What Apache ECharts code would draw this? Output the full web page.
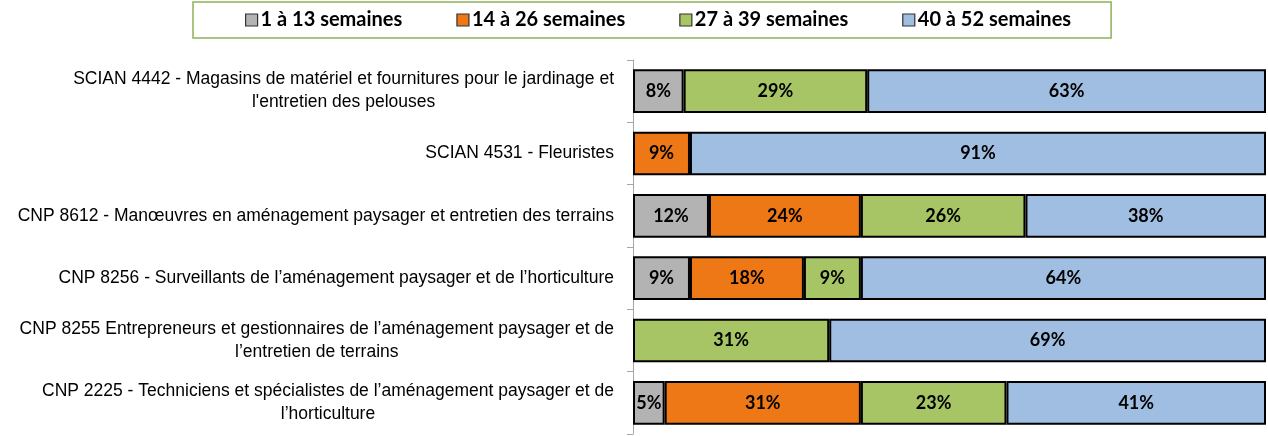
<!DOCTYPE html>
<html>
<head>
<meta charset="utf-8">
<script src="https://cdn.jsdelivr.net/npm/echarts@6/dist/echarts.min.js"></script>
<style>
  html, body { margin: 0; padding: 0; background: #fff; }
  #chart { width: 1268px; height: 436px; }
</style>
</head>
<body>
<div id="chart"></div>
<script>
// catégories (de haut en bas)
const categories = [
    'SCIAN 4442 - Magasins de matériel et fournitures pour le jardinage et\nl\'entretien des pelouses',
    'SCIAN 4531 - Fleuristes',
    'CNP 8612 - Manœuvres en aménagement paysager et entretien des terrains',
    'CNP 8256 - Surveillants de l’aménagement paysager et de l’horticulture',
    'CNP 8255 Entrepreneurs et gestionnaires de l’aménagement paysager et de\nl’entretien de terrains',
    'CNP 2225 - Techniciens et spécialistes de l’aménagement paysager et de\nl’horticulture'
];

const seriesNames = ['1 à 13 semaines', '14 à 26 semaines', '27 à 39 semaines', '40 à 52 semaines'];

// pourcentages par tranche
const weeks1to13 = [8, null, 12, 9, null, 5];
const weeks14to26 = [null, 9, 24, 18, null, 31];
const weeks27to39 = [29, null, 26, 9, 31, 23];
const weeks40to52 = [63, 91, 38, 64, 69, 41];

const colors = ['#b3b3b3', '#ee7716', '#a7c565', '#a0bee1'];

const chart = echarts.init(document.getElementById('chart'));

const allValues = [weeks1to13, weeks14to26, weeks27to39, weeks40to52];

const series = allValues.map(function (vals, i) {
    return {
        name: seriesNames[i],
        type: 'bar',
        stack: 'total',
        barCategoryGap: '30%',
        data: vals,
        itemStyle: {
            color: colors[i],
            borderColor: '#000',
            borderWidth: 2
        },
        label: {
            show: true,
            position: 'inside',
            color: '#000',
            fontFamily: 'Lato',
            fontWeight: 'bold',
            fontSize: 18,
            formatter: function (p) {
                return p.value ? p.value + '%' : '';
            }
        }
    };
});

const option = {
    animation: false,
    legend: {
        left: 193,
        top: 2,
        padding: [8, 40, 8, 52],
        itemGap: 54,
        itemWidth: 12,
        itemHeight: 12,
        borderColor: '#8db35a',
        borderWidth: 1.5,
        icon: 'rect',
        itemStyle: { borderWidth: 1.2, borderColor: '#333' },
        textStyle: {
            fontFamily: 'Lato',
            fontWeight: 'bold',
            fontSize: 20,
            color: '#000',
            padding: [0, 0, 0, -2]
        },
        data: seriesNames
    },
    grid: {
        left: 633,
        right: 2,
        top: 60,
        bottom: 2
    },
    xAxis: {
        type: 'value',
        min: 0,
        max: 100,
        show: false
    },
    yAxis: {
        type: 'category',
        inverse: true,
        data: categories,
        axisLine: { show: true, lineStyle: { color: '#a6a6a6', width: 1 } },
        axisTick: { show: true, length: 6, lineStyle: { color: '#a6a6a6' } },
        axisLabel: {
            margin: 19,
            align: 'right',
            color: '#000',
            fontFamily: 'Liberation Sans',
            fontSize: 17.5,
            lineHeight: 23,
            // lignes centrées entre elles, bloc aligné à droite
            formatter: function (v) {
                return v.split('\n').map(function (l) { return '{c|' + l + '}'; }).join('\n');
            },
            rich: {
                c: {
                    align: 'center',
                    fontFamily: 'Liberation Sans',
                    fontSize: 17.5,
                    lineHeight: 23,
                    color: '#000'
                }
            }
        }
    },
    series: series
};

chart.setOption(option);
</script>
</body>
</html>
